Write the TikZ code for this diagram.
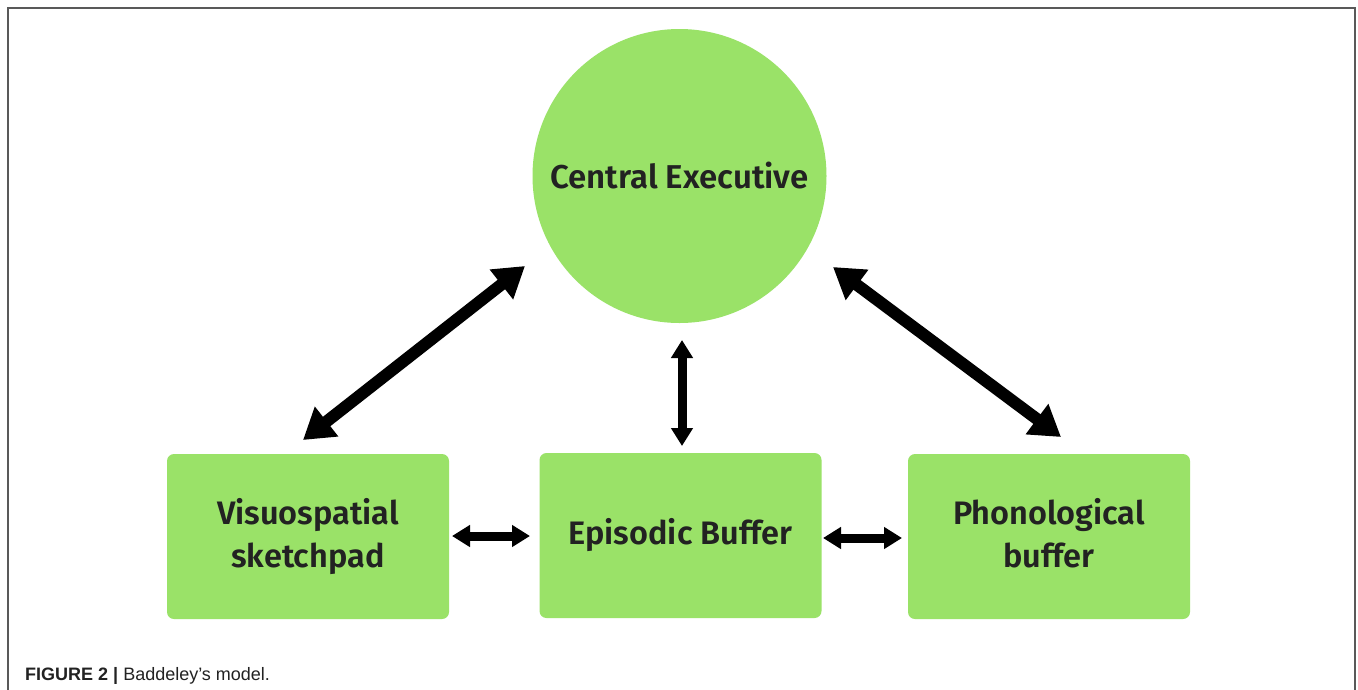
\documentclass[tikz,border=0pt]{standalone}
\usepackage{fontspec}
\setmainfont{Liberation Sans}
\newfontfamily\boxfont{Fira Sans SemiBold}
\usetikzlibrary{arrows.meta}
\definecolor{boxgreen}{RGB}{154,226,104}
\definecolor{txt}{RGB}{34,34,34}
\tikzset{
  x=1pt, y=-1pt,
  stage/.style={fill=boxgreen, draw=none, rounded corners=7pt, minimum width=282pt, minimum height=165pt, inner sep=0pt, align=center, text=txt, font=\boxfont\fontsize{32.5}{43}\selectfont},
  exec/.style={circle, fill=boxgreen, draw=none, minimum size=294pt, inner sep=0pt, text=txt, font=\boxfont\fontsize{33}{38}\selectfont},
  bigarrow/.style={line width=12pt, {Triangle[width=36pt,length=30pt]}-{Triangle[width=36pt,length=30pt]}},
  smallarrow/.style={line width=9pt, {Triangle[width=21pt,length=18pt]}-{Triangle[width=21pt,length=18pt]}},
  frame/.style={draw=black!65, line width=1.5pt}
}
\begin{document}
\begin{tikzpicture}
\useasboundingbox (0,0) rectangle (1358,689);
\fill[white] (0,0) rectangle (1358,689);
\draw[frame] (8,700) -- (8,8) -- (1355,8) -- (1355,700);
\node[exec] (ce) at (679.5,176) {Central Executive};
\node[stage] (vs) at (308,536.5) {Visuospatial\\sketchpad};
\node[stage] (eb) at (680.5,535.5) {Episodic Buffer};
\node[stage] (pb) at (1049,536.5) {Phonological\\buffer\vphantom{p}};
% arrow tips
\coordinate (l1) at (525,266);
\coordinate (l2) at (303,440);
\coordinate (r1) at (833,267);
\coordinate (r2) at (1061,437);
\coordinate (c1) at (682,340);
\coordinate (c2) at (682,446);
\coordinate (h1) at (452,536);
\coordinate (h2) at (530,536);
\coordinate (h3) at (823,538);
\coordinate (h4) at (902,538);
\draw[bigarrow] (l1) -- (l2);
\draw[bigarrow] (r1) -- (r2);
\draw[smallarrow] (c1) -- (c2);
\draw[smallarrow] (h1) -- (h2);
\draw[smallarrow] (h3) -- (h4);
\node[anchor=base west, inner sep=0pt, text=txt, font=\fontsize{18}{22}\selectfont] (cap) at (25,680) {\textbf{FIGURE 2 |} Baddeley’s model.};
\end{tikzpicture}
\end{document}
